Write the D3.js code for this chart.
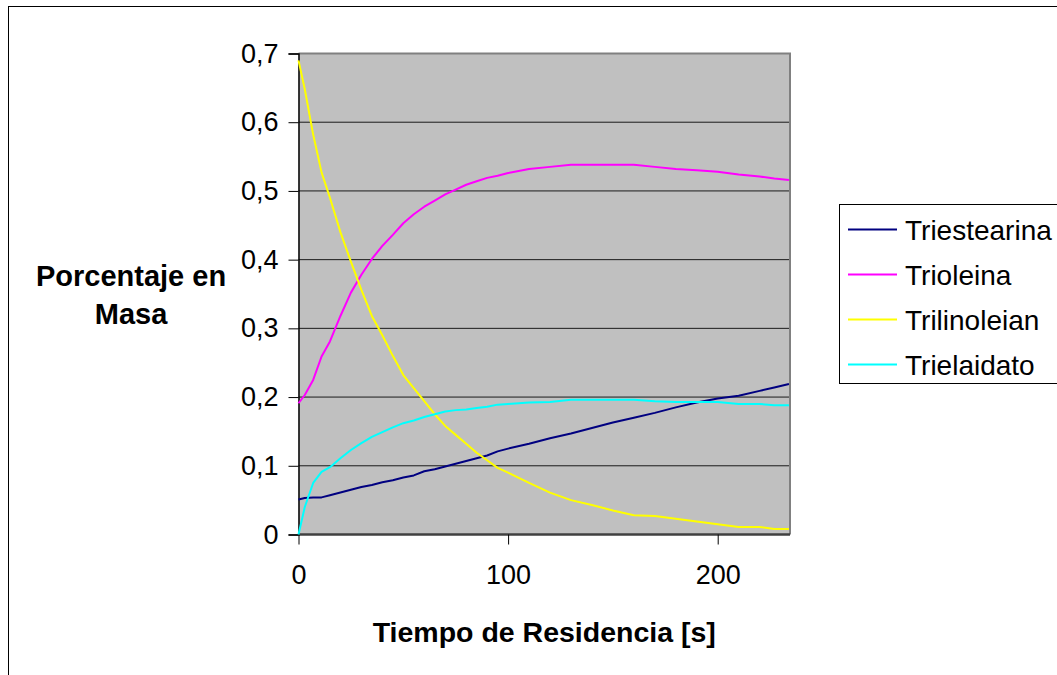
<!DOCTYPE html>
<html>
<head>
<meta charset="utf-8">
<script src="https://cdn.jsdelivr.net/npm/d3@7"></script>
<style>
  html, body { margin: 0; padding: 0; background: #ffffff; }
  svg { display: block; font-family: "Liberation Sans", Arial, sans-serif; }
</style>
</head>
<body>
<svg id="chart" width="1057" height="675"></svg>
<script>
// ---- data ----
const times = [0, 3, 7, 11, 15, 20, 25, 30, 35, 40, 45, 50, 55, 60, 65, 70, 75, 80, 85, 90, 95, 100,
  110, 120, 130, 140, 150, 160, 170, 180, 190, 200, 210, 220, 227, 234];
const triestearina = [0.051, 0.053, 0.054, 0.054, 0.057, 0.061, 0.065, 0.069, 0.072, 0.076, 0.079, 0.083,
  0.086, 0.092, 0.095, 0.099, 0.103, 0.107, 0.111, 0.115, 0.121, 0.125,
  0.132, 0.140, 0.147, 0.155, 0.163, 0.170, 0.177, 0.185, 0.192, 0.198, 0.202, 0.209, 0.214, 0.219];
const trioleina = [0.191, 0.203, 0.225, 0.259, 0.281, 0.318, 0.352, 0.378, 0.401, 0.420, 0.436, 0.453,
  0.466, 0.477, 0.486, 0.495, 0.502, 0.509, 0.514, 0.519, 0.522, 0.526,
  0.532, 0.535, 0.538, 0.538, 0.538, 0.538, 0.535, 0.532, 0.530, 0.528, 0.524, 0.521, 0.518, 0.516];
const trilinoleian = [0.690, 0.648, 0.582, 0.527, 0.490, 0.440, 0.397, 0.356, 0.318, 0.290, 0.260, 0.232,
  0.213, 0.194, 0.175, 0.158, 0.145, 0.132, 0.119, 0.108, 0.097, 0.090,
  0.075, 0.061, 0.050, 0.043, 0.035, 0.028, 0.027, 0.023, 0.019, 0.015, 0.011, 0.011, 0.008, 0.008];
const trielaidato = [0.000, 0.040, 0.075, 0.091, 0.098, 0.111, 0.123, 0.133, 0.142, 0.149, 0.156, 0.162,
  0.166, 0.171, 0.175, 0.179, 0.181, 0.182, 0.184, 0.186, 0.189, 0.190,
  0.192, 0.193, 0.196, 0.196, 0.196, 0.196, 0.194, 0.193, 0.193, 0.193, 0.190, 0.190, 0.188, 0.188];
const seriesNames = ["Triestearina", "Trioleina", "Trilinoleian", "Trielaidato"];
const yTicks = [0, 0.1, 0.2, 0.3, 0.4, 0.5, 0.6, 0.7];
const xTicks = [0, 100, 200];
const xTitle = "Tiempo de Residencia [s]";
const yTitleLines = ["Porcentaje en", "Masa"];

// ---- layout ----
const colors = ["#000080", "#ff00ff", "#ffff00", "#00ffff"];
const seriesValues = [triestearina, trioleina, trilinoleian, trielaidato];
const plot = { left: 298.5, right: 790, top: 53.5, bottom: 534.5 };

const svg = d3.select("#chart");
const x = d3.scaleLinear().domain([0, 234.5]).range([plot.left, plot.right]);
const y = d3.scaleLinear().domain([0, 0.7]).range([plot.bottom, plot.top]);
const fmt = v => d3.format("")(+v.toFixed(1)).replace(".", ",");

// outer chart border
svg.append("rect").attr("x", 8.5).attr("y", 6.5).attr("width", 1060).attr("height", 680)
  .attr("fill", "#fff").attr("stroke", "#000").attr("stroke-width", 1);

// plot area
svg.append("rect").attr("x", plot.left).attr("y", plot.top)
  .attr("width", plot.right - plot.left).attr("height", plot.bottom - plot.top)
  .attr("fill", "#c0c0c0");

// gridlines
svg.append("g").selectAll("line").data(yTicks.filter(d => d > 0 && d < 0.7)).join("line")
  .attr("x1", plot.left).attr("x2", plot.right)
  .attr("y1", d => y(d)).attr("y2", d => y(d))
  .attr("stroke", "#1a1a1a").attr("stroke-width", 1);

// plot border top/right
svg.append("path")
  .attr("d", `M${plot.left},${plot.top}H${plot.right}V${plot.bottom}`)
  .attr("fill", "none").attr("stroke", "#808080").attr("stroke-width", 2);

// y axis
const yAxis = d3.axisLeft(y).tickValues(yTicks).tickSize(10).tickPadding(10).tickFormat(fmt);
const gy = svg.append("g").attr("transform", `translate(${plot.left},0)`).call(yAxis);
gy.select(".domain").attr("stroke", "#000").attr("stroke-width", 1.5);
gy.selectAll(".tick line").attr("stroke", "#000");
gy.selectAll(".tick text").attr("font-size", 27).attr("fill", "#000")
  .attr("font-family", "Liberation Sans, Arial, sans-serif");

// x axis
const xAxis = d3.axisBottom(x).tickValues(xTicks).tickSize(10).tickPadding(20).tickFormat(d3.format("d"));
const gx = svg.append("g").attr("transform", `translate(0,${plot.bottom})`).call(xAxis);
gx.select(".domain").attr("stroke", "#404040").attr("stroke-width", 2.5)
  .attr("d", `M${plot.left},0H${plot.right}`);
gx.selectAll(".tick line").attr("stroke", "#000");
gx.selectAll(".tick text").attr("font-size", 27).attr("fill", "#000")
  .attr("font-family", "Liberation Sans, Arial, sans-serif");

// series lines
const line = d3.line().x((d, i) => x(times[i])).y(d => y(d));
svg.append("g").selectAll("path").data(seriesValues).join("path")
  .attr("d", d => line(d))
  .attr("fill", "none")
  .attr("stroke", (d, i) => colors[i])
  .attr("stroke-width", 2)
  .attr("stroke-linejoin", "round");

// axis titles
svg.append("text").attr("x", (plot.left + plot.right) / 2).attr("y", 642)
  .attr("text-anchor", "middle").attr("font-size", 28.5).attr("font-weight", "bold")
  .text(xTitle);
svg.append("g").selectAll("text").data(yTitleLines).join("text")
  .attr("x", 131).attr("y", (d, i) => 286 + i * 38)
  .attr("text-anchor", "middle").attr("font-size", 29).attr("font-weight", "bold")
  .text(d => d);

// legend
const lg = svg.append("g");
lg.append("rect").attr("x", 839.5).attr("y", 204.5).attr("width", 230).attr("height", 179)
  .attr("fill", "#fff").attr("stroke", "#000").attr("stroke-width", 1);
const items = lg.selectAll("g.item").data(seriesNames).join("g").attr("class", "item")
  .attr("transform", (d, i) => `translate(0,${229.5 + i * 45})`);
items.append("line").attr("x1", 848).attr("x2", 897).attr("y1", 0).attr("y2", 0)
  .attr("stroke", (d, i) => colors[i]).attr("stroke-width", 2);
items.append("text").attr("x", 905).attr("y", 10).attr("font-size", 28)
  .attr("fill", "#000").text(d => d);
</script>
</body>
</html>
